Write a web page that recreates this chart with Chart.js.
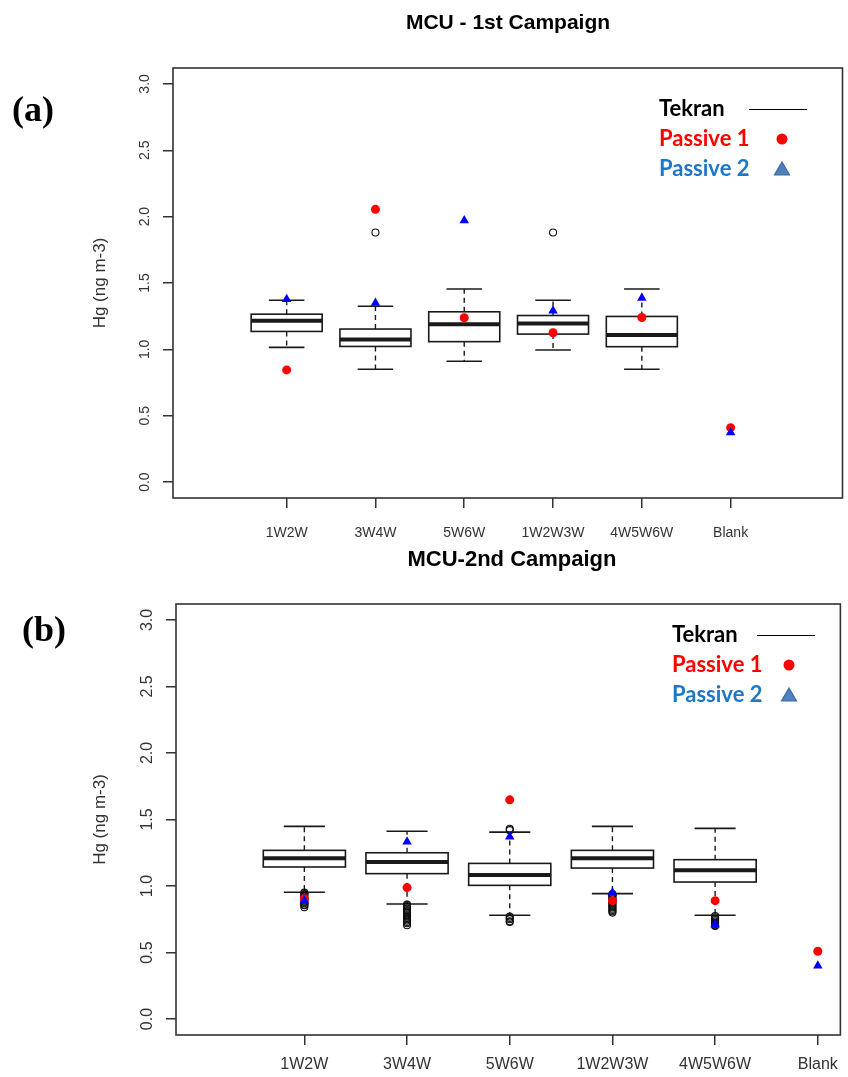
<!DOCTYPE html>
<html>
<head>
<meta charset="utf-8">
<title>MCU campaigns - Hg boxplots</title>
<script src="https://cdn.jsdelivr.net/npm/chart.js@4.4.1/dist/chart.umd.min.js"></script>
<style>
  body { margin: 0; background: #fff; }
  #wrap { position: relative; width: 848px; height: 1077px; }
  canvas { position: absolute; left: 0; }
  #chartA { top: 0; }
  #chartB { top: 545px; }
</style>
</head>
<body>
<div id="wrap">
  <canvas id="chartA" width="848" height="545"></canvas>
  <canvas id="chartB" width="848" height="532"></canvas>
</div>
<script>
// categories and tick labels
const categories = ['1W2W', '3W4W', '5W6W', '1W2W3W', '4W5W6W', 'Blank'];
const yTicks = [0, 0.5, 1, 1.5, 2, 2.5, 3];

// 1st campaign - Tekran boxplot stats (no box for Blank)
const c1Low    = [1.015, 0.850, 0.910, 0.995, 0.850, null];
const c1Q1     = [1.135, 1.022, 1.058, 1.115, 1.020, null];
const c1Median = [1.215, 1.075, 1.190, 1.195, 1.108, null];
const c1Q3     = [1.265, 1.153, 1.283, 1.255, 1.248, null];
const c1High   = [1.370, 1.325, 1.455, 1.370, 1.455, null];
const c1Outliers = [[], [1.88], [], [1.88], [], []];
const c1Passive1 = [0.845, 2.055, 1.238, 1.125, 1.240, 0.410];
const c1Passive2 = [1.378, 1.350, 1.970, 1.290, 1.387, 0.373];

// 2nd campaign
const c2Low    = [0.953, 0.865, 0.780, 0.943, 0.780, null];
const c2Q1     = [1.143, 1.093, 1.005, 1.135, 1.030, null];
const c2Median = [1.208, 1.180, 1.083, 1.208, 1.118, null];
const c2Q3     = [1.268, 1.250, 1.170, 1.268, 1.198, null];
const c2High   = [1.448, 1.412, 1.405, 1.448, 1.433, null];
const c2Outliers = [
  [0.95, 0.94, 0.935, 0.92, 0.91, 0.905, 0.89, 0.88, 0.87, 0.86, 0.855, 0.84],
  [0.86, 0.85, 0.845, 0.83, 0.82, 0.81, 0.80, 0.795, 0.78, 0.77, 0.76, 0.75, 0.74, 0.73, 0.72, 0.705],
  [1.43, 1.42, 0.77, 0.76, 0.75, 0.735, 0.73],
  [0.94, 0.93, 0.92, 0.91, 0.90, 0.89, 0.88, 0.87, 0.86, 0.85, 0.84, 0.83, 0.82, 0.81, 0.80],
  [0.775, 0.765, 0.755, 0.745, 0.735, 0.725, 0.715, 0.705, 0.70],
  []
];
const c2Passive1 = [0.905, 0.988, 1.648, 0.890, 0.890, 0.510];
const c2Passive2 = [0.890, 1.333, 1.370, 0.950, 0.710, 0.400];


function toPoints(arr) {
  const pts = [];
  arr.forEach((v, i) => { if (v != null) pts.push({ x: i + 1, y: v }); });
  return pts;
}
function outlierPoints(arr) {
  const pts = [];
  arr.forEach((list, i) => list.forEach(v => pts.push({ x: i + 1, y: v })));
  return pts;
}

// R-style boxplot + decorations
const rBox = {
  id: 'rBox',
  beforeDatasetsDraw(chart, args, o) {
    const ctx = chart.ctx, xs = chart.scales.x, ys = chart.scales.y;
    const s = o.stats;
    const line = (x1, y1, x2, y2) => { ctx.beginPath(); ctx.moveTo(x1, y1); ctx.lineTo(x2, y2); ctx.stroke(); };
    ctx.save();
    ctx.strokeStyle = '#1a1a1a';
    for (let i = 0; i < categories.length; i++) {
      if (s.median[i] == null) continue;
      const cx = xs.getPixelForValue(i + 1);
      const half = xs.getPixelForValue(i + 1.4) - cx;
      const cap = xs.getPixelForValue(i + 1.2) - cx;
      const yLo = ys.getPixelForValue(s.low[i]), yQ1 = ys.getPixelForValue(s.q1[i]);
      const yMd = ys.getPixelForValue(s.median[i]), yQ3 = ys.getPixelForValue(s.q3[i]);
      const yHi = ys.getPixelForValue(s.high[i]);
      ctx.lineWidth = 1.4;
      ctx.setLineDash([5, 4]);
      line(cx, yQ3, cx, yHi);
      line(cx, yQ1, cx, yLo);
      ctx.setLineDash([]);
      ctx.lineWidth = 1.6;
      line(cx - cap, yHi, cx + cap, yHi);
      line(cx - cap, yLo, cx + cap, yLo);
      ctx.fillStyle = '#fff';
      ctx.fillRect(cx - half, yQ3, 2 * half, yQ1 - yQ3);
      ctx.strokeRect(cx - half, yQ3, 2 * half, yQ1 - yQ3);
      ctx.lineWidth = 4;
      line(cx - half, yMd, cx + half, yMd);
    }
    ctx.restore();
  },
  afterDraw(chart, args, o) {
    const ctx = chart.ctx, a = chart.chartArea, ys = chart.scales.y;
    ctx.save();
    // frame
    ctx.strokeStyle = '#333';
    ctx.lineWidth = 1.6;
    ctx.strokeRect(a.left, a.top, a.right - a.left, a.bottom - a.top);

    // rotated y tick labels
    ctx.fillStyle = '#333';
    ctx.font = o.yTickFont + 'px "Liberation Sans", Arial, sans-serif';
    ctx.textAlign = 'center';
    ctx.textBaseline = 'middle';
    ys.ticks.forEach(t => {
      ctx.save();
      ctx.translate(o.yLabelX, ys.getPixelForValue(t.value));
      ctx.rotate(-Math.PI / 2);
      ctx.fillText(t.value.toFixed(1), 0, 0);
      ctx.restore();
    });

    // y axis title
    ctx.save();
    ctx.font = o.yTitleFont + 'px "Liberation Sans", Arial, sans-serif';
    ctx.translate(o.yTitleX, (a.top + a.bottom) / 2);
    ctx.rotate(-Math.PI / 2);
    ctx.fillText('Hg (ng m-3)', 0, 0);
    ctx.restore();

    // main title
    ctx.fillStyle = '#000';
    ctx.font = 'bold ' + o.titleFont + 'px "Liberation Sans", Arial, sans-serif';
    ctx.fillText(o.title, o.titleX, o.titleY);

    // panel letter
    ctx.font = 'bold 36px "Liberation Serif", "Times New Roman", serif';
    ctx.fillText(o.panel, o.panelX, o.panelY);

    // legend
    const L = o.legend;
    ctx.textAlign = 'left';
    ctx.font = 'bold 22px Lato, "Open Sans", sans-serif';
    ctx.fillStyle = '#000';
    ctx.fillText('Tekran', L.x, L.y);
    ctx.fillStyle = '#ff0000';
    ctx.fillText('Passive 1', L.x, L.y + L.gap);
    ctx.fillStyle = '#1f76c6';
    ctx.fillText('Passive 2', L.x, L.y + 2 * L.gap);
    ctx.strokeStyle = '#000';
    ctx.lineWidth = 1.2;
    ctx.beginPath();
    ctx.moveTo(L.lineX1, L.y + 0.5);
    ctx.lineTo(L.lineX2, L.y + 0.5);
    ctx.stroke();
    ctx.fillStyle = '#ff0000';
    ctx.beginPath();
    ctx.arc(L.markX, L.y + L.gap, 5.5, 0, Math.PI * 2);
    ctx.fill();
    const ty = L.y + 2 * L.gap;
    ctx.fillStyle = '#4f81bd';
    ctx.strokeStyle = '#3b6aa0';
    ctx.beginPath();
    ctx.moveTo(L.markX, ty - 7);
    ctx.lineTo(L.markX + 7.5, ty + 6);
    ctx.lineTo(L.markX - 7.5, ty + 6);
    ctx.closePath();
    ctx.fill();
    ctx.stroke();
    ctx.restore();
  }
};

function makeChart(id, cfg) {
  return new Chart(document.getElementById(id), {
    type: 'scatter',
    data: {
      datasets: [
        {
          label: 'Passive 2',
          data: toPoints(cfg.passive2),
          pointStyle: 'triangle',
          pointRadius: 5.5,
          backgroundColor: '#0000ff',
          borderColor: '#0000ff',
          borderWidth: 0
        },
        {
          label: 'Passive 1',
          data: toPoints(cfg.passive1),
          pointStyle: 'circle',
          pointRadius: 4.5,
          backgroundColor: '#ff0000',
          borderColor: '#ff0000',
          borderWidth: 0
        },
        {
          label: 'Outliers',
          data: outlierPoints(cfg.outliers),
          pointStyle: 'circle',
          pointRadius: 3.5,
          backgroundColor: 'rgba(0,0,0,0)',
          borderColor: '#111',
          borderWidth: 1.1
        }
      ]
    },
    options: {
      responsive: false,
      animation: false,
      layout: { padding: { left: 0, right: cfg.padRight, top: cfg.padTop, bottom: 0 } },
      plugins: {
        legend: { display: false },
        tooltip: { enabled: false },
        rBox: cfg.deco
      },
      scales: {
        x: {
          type: 'linear',
          min: cfg.xMin,
          max: cfg.xMax,
          afterBuildTicks: s => { s.ticks = categories.map((c, i) => ({ value: i + 1 })); },
          afterFit: s => { s.height = cfg.xAxisHeight; },
          ticks: {
            autoSkip: false,
            maxRotation: 0,
            padding: cfg.xLabelPad,
            color: '#333',
            font: { family: '"Liberation Sans", Arial, sans-serif', size: cfg.xTickFont },
            callback: v => categories[Math.round(v) - 1]
          },
          grid: { drawOnChartArea: false, drawTicks: true, tickLength: 10, color: '#333', lineWidth: 1.5 },
          border: { display: false }
        },
        y: {
          type: 'linear',
          min: -0.12,
          max: 3.12,
          afterBuildTicks: s => { s.ticks = yTicks.map(v => ({ value: v })); },
          afterFit: s => { s.width = cfg.yAxisWidth; },
          ticks: { display: false },
          grid: { drawOnChartArea: false, drawTicks: true, tickLength: 10, color: '#333', lineWidth: 1.5 },
          border: { display: false }
        }
      }
    },
    plugins: [rBox]
  });
}

makeChart('chartA', {
  passive1: c1Passive1, passive2: c1Passive2, outliers: c1Outliers,
  xMin: -0.28, xMax: 7.26, padTop: 68, padRight: 4, xAxisHeight: 47, yAxisWidth: 173,
  xLabelPad: 17, xTickFont: 14,
  deco: {
    stats: { low: c1Low, q1: c1Q1, median: c1Median, q3: c1Q3, high: c1High },
    title: 'MCU - 1st Campaign', titleX: 508, titleY: 23, titleFont: 21,
    panel: '(a)', panelX: 33, panelY: 112,
    yLabelX: 145, yTickFont: 14, yTitleX: 100, yTitleFont: 17,
    legend: { x: 659, y: 109, gap: 30, lineX1: 749, lineX2: 807, markX: 782 }
  }
});

makeChart('chartB', {
  passive1: c2Passive1, passive2: c2Passive2, outliers: c2Outliers,
  xMin: -0.25, xMax: 6.22, padTop: 59, padRight: 3, xAxisHeight: 42, yAxisWidth: 176,
  xLabelPad: 10, xTickFont: 16,
  deco: {
    stats: { low: c2Low, q1: c2Q1, median: c2Median, q3: c2Q3, high: c2High },
    title: 'MCU-2nd Campaign', titleX: 512, titleY: 15, titleFont: 22,
    panel: '(b)', panelX: 44, panelY: 87,
    yLabelX: 148, yTickFont: 16, yTitleX: 100, yTitleFont: 17,
    legend: { x: 672, y: 90, gap: 30, lineX1: 757, lineX2: 815, markX: 789 }
  }
});
</script>
</body>
</html>
